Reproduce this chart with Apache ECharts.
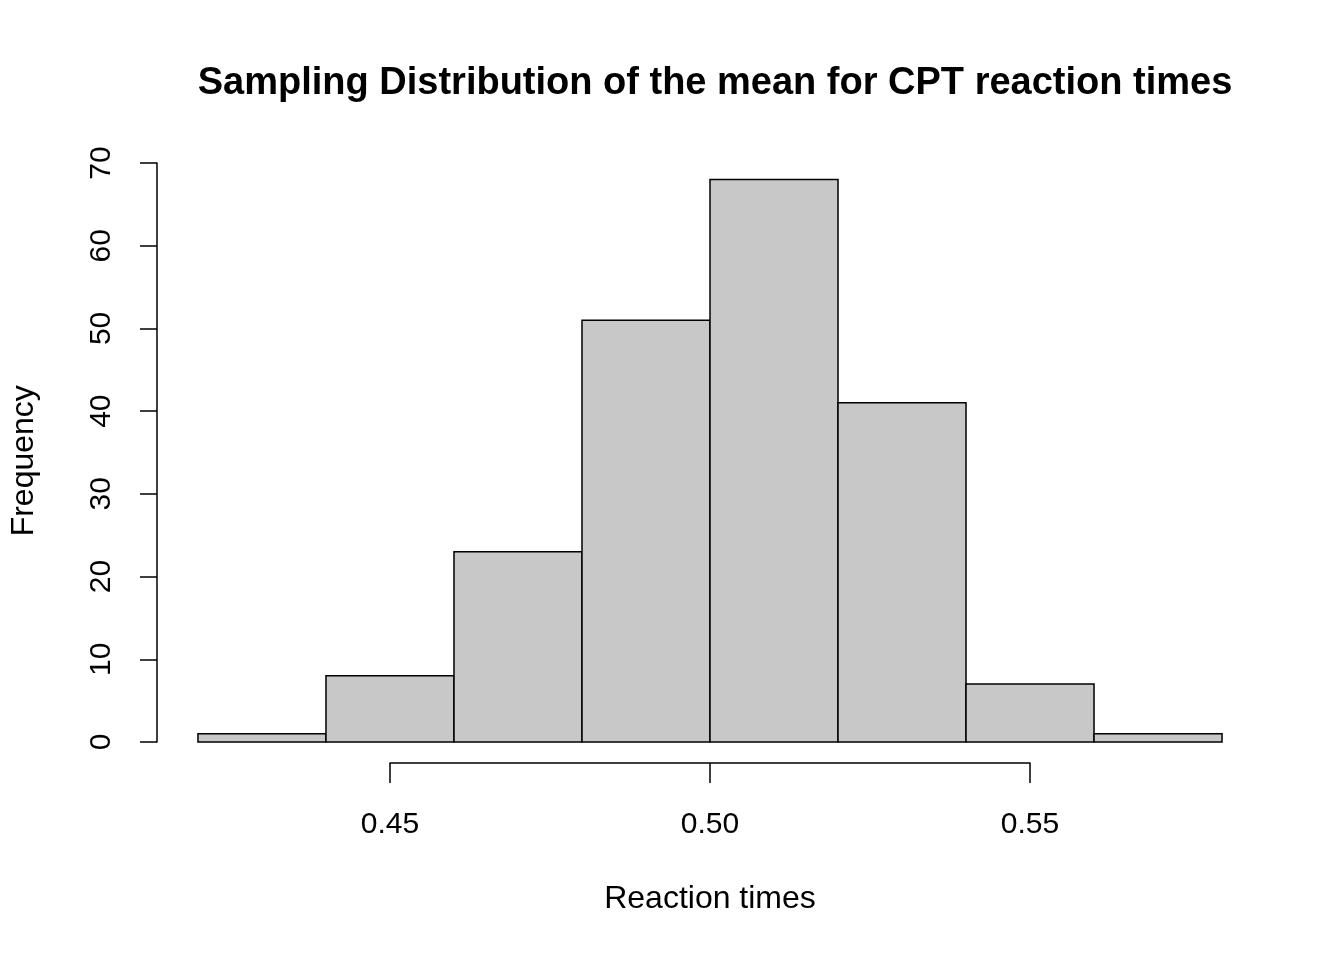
<!DOCTYPE html>
<html>
<head>
<meta charset="utf-8">
<script src="https://cdn.jsdelivr.net/npm/echarts@6/dist/echarts.min.js"></script>
<style>html,body{margin:0;padding:0;background:#fff}#c{width:1344px;height:960px}</style>
</head>
<body>
<div id="c"></div>
<script>
var binStarts = [0.42, 0.44, 0.46, 0.48, 0.50, 0.52, 0.54, 0.56];
var binEnds   = [0.44, 0.46, 0.48, 0.50, 0.52, 0.54, 0.56, 0.58];
var counts    = [1, 8, 23, 51, 68, 41, 7, 1];
var xTicks    = [0.45, 0.50, 0.55];
var yTicks    = [0, 10, 20, 30, 40, 50, 60, 70];

var data = binStarts.map(function (s, i) { return [s, binEnds[i], counts[i]]; });
var font = 'Liberation Sans, Arial, Helvetica, sans-serif';

var chart = echarts.init(document.getElementById('c'), null, {renderer: 'canvas'});
chart.setOption({
  animation: false,
  backgroundColor: '#ffffff',
  title: {
    text: 'Sampling Distribution of the mean for CPT reaction times',
    left: 710, top: 60, textAlign: 'center',
    textStyle: {fontFamily: font, fontSize: 38, fontWeight: 'bold', color: '#000'}
  },
  grid: [
    {left: 157, right: 81, top: 157, bottom: 195.5},
    {left: 390, width: 640, top: 163, bottom: 197},
    {left: 157, width: 100, top: 163, height: 579}
  ],
  xAxis: [
    {type: 'value', gridIndex: 0, min: 0.4136, max: 0.5864, show: false},
    {type: 'value', gridIndex: 1, min: 0.45, max: 0.55, interval: 0.05,
     axisLine: {show: true, lineStyle: {color: '#000', width: 1.5}},
     axisTick: {show: true, length: 20, lineStyle: {color: '#000', width: 1.5}},
     axisLabel: {show: true, margin: 47, fontFamily: font, fontSize: 30, color: '#000',
                 formatter: function (v) { return v.toFixed(2); }},
     splitLine: {show: false},
     name: 'Reaction times', nameLocation: 'middle', nameGap: 120,
     nameTextStyle: {fontFamily: font, fontSize: 32, color: '#000'}},
    {type: 'value', gridIndex: 2, show: false, min: 0, max: 1}
  ],
  yAxis: [
    {type: 'value', gridIndex: 0, min: -2.72, max: 70.72, show: true,
     axisLine: {show: false}, axisTick: {show: false}, axisLabel: {show: false}, splitLine: {show: false},
     name: 'Frequency', nameLocation: 'middle', nameGap: 117,
     nameTextStyle: {fontFamily: font, fontSize: 32, color: '#000'}},
    {type: 'value', gridIndex: 1, show: false, min: 0, max: 1},
    {type: 'value', gridIndex: 2, min: 0, max: 70, interval: 10,
     axisLine: {show: true, lineStyle: {color: '#000', width: 1.5}},
     axisTick: {show: true, length: 17, lineStyle: {color: '#000', width: 1.5}},
     axisLabel: {show: true, margin: 55, rotate: 90, fontFamily: font, fontSize: 30, color: '#000',
                 verticalAlign: 'middle', align: 'center'},
     splitLine: {show: false}}
  ],
  series: [{
    type: 'custom',
    xAxisIndex: 0, yAxisIndex: 0,
    data: data,
    renderItem: function (params, api) {
      var p0 = api.coord([api.value(0), 0]);
      var p1 = api.coord([api.value(1), api.value(2)]);
      return {
        type: 'rect',
        shape: {x: p0[0], y: p1[1], width: p1[0] - p0[0], height: p0[1] - p1[1]},
        style: {fill: '#c8c8c8', stroke: '#000', lineWidth: 1.5}
      };
    }
  }]
});
</script>
</body>
</html>
